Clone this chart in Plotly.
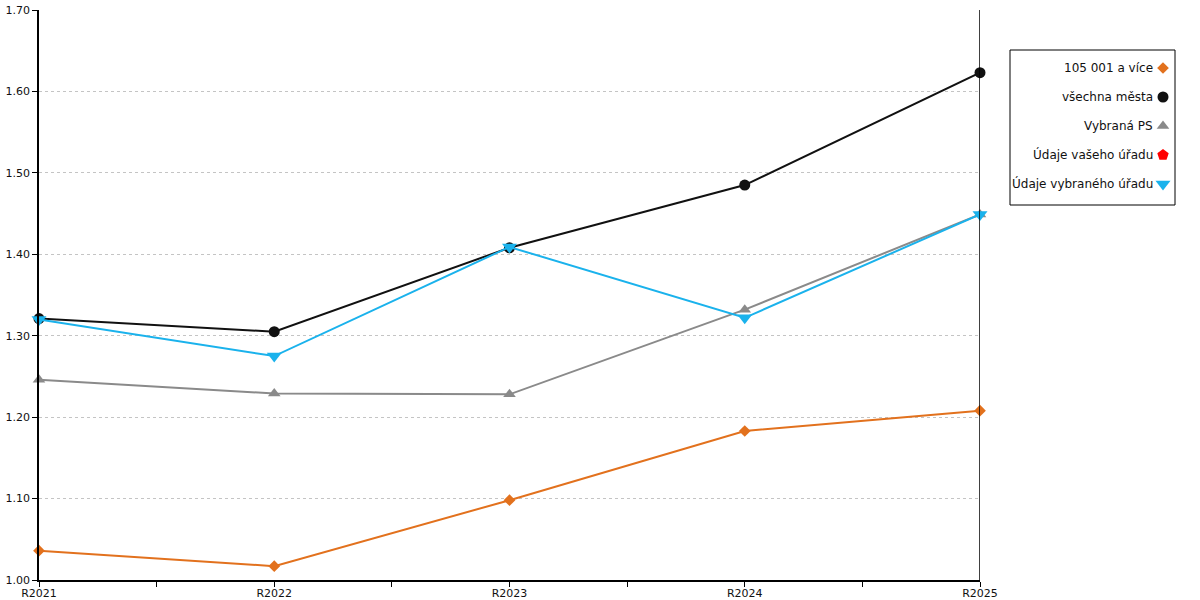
import plotly.graph_objects as go

# data
roky = ['R2021', 'R2022', 'R2023', 'R2024', 'R2025']
nazvy = ['105 001 a více', 'všechna města', 'Vybraná PS', 'Údaje vašeho úřadu', 'Údaje vybraného úřadu']
mesta_105 = [1.036, 1.017, 1.098, 1.183, 1.208]
vsechna_mesta = [1.321, 1.305, 1.408, 1.485, 1.623]
vybrana_ps = [1.246, 1.229, 1.228, 1.332, 1.449]
vas_urad = [None, None, None, None, None]
vybrany_urad = [1.320, 1.275, 1.409, 1.322, 1.449]

rady = [mesta_105, vsechna_mesta, vybrana_ps, vas_urad, vybrany_urad]
barvy = ['#E2711D', '#111111', '#8A8A8A', '#FF0000', '#1AB2EC']
symboly = ['diamond', 'circle', 'triangle-up', 'pentagon', 'triangle-down']
velikosti = [9, 11, 11, 12, 13]

x = list(range(len(roky)))
fnt = dict(family='DejaVu Sans', size=11, color='#111')
fnt_leg = dict(family='DejaVu Sans', size=12, color='#111')

W, H = 1200, 600


def px_x(p):
    return p / W


def px_y(p):
    return (H - p) / H


fig = go.Figure()
for nazev, hodnoty, barva, sym, vel in zip(nazvy, rady, barvy, symboly, velikosti):
    fig.add_trace(go.Scatter(
        x=x, y=hodnoty, name=nazev, mode='lines+markers',
        line=dict(color=barva, width=2),
        marker=dict(symbol=sym, size=vel, color=barva),
        showlegend=False, cliponaxis=False,
    ))

# custom legend: text right aligned, symbol on the right
leg_y = [0, 1, 2, 3, 4]
for i, (nazev, barva, sym, vel) in enumerate(zip(nazvy, barvy, symboly, velikosti)):
    fig.add_trace(go.Scatter(
        x=[0], y=[leg_y[i]], mode='markers', xaxis='x2', yaxis='y2',
        marker=dict(symbol=sym, size=vel, color=barva),
        showlegend=False, hoverinfo='skip', cliponaxis=False,
    ))
    fig.add_annotation(x=-0.6, y=leg_y[i], xref='x2', yref='y2', text=nazev,
                       showarrow=False, xanchor='right', font=fnt_leg)

fig.update_layout(
    width=W, height=H,
    margin=dict(l=0, r=0, t=0, b=0),
    plot_bgcolor='white', paper_bgcolor='white',
    font=fnt,
    xaxis=dict(
        domain=[px_x(39), px_x(980)], automargin=False,
        range=[0, 4], tickvals=x, ticktext=roky,
        showgrid=False, zeroline=False,
        showline=True, linecolor='black', linewidth=1.5,
        ticks='outside', ticklen=5, tickcolor='black', ticklabelstandoff=-3,
        minor=dict(tickvals=[0.5, 1.5, 2.5, 3.5], ticks='outside', ticklen=5, tickcolor='black'),
        tickfont=fnt,
    ),
    yaxis=dict(
        domain=[px_y(580), px_y(10)], automargin=False,
        range=[1.0, 1.7], dtick=0.1, tickformat='.2f',
        showgrid=True, gridcolor='#c4c4c4', griddash='dot', gridwidth=1,
        zeroline=False, showline=True, linecolor='black', linewidth=1.5,
        ticks='outside', ticklen=5, tickcolor='black', tickfont=fnt,
    ),
    xaxis2=dict(domain=[px_x(1150), px_x(1176)], range=[-1, 1], visible=False,
                fixedrange=True, anchor='y2'),
    yaxis2=dict(domain=[px_y(198.5), px_y(53.5)], range=[4.5, -0.5], visible=False,
                fixedrange=True, anchor='x2'),
    shapes=[
        dict(type='line', xref='x', yref='paper', x0=4, x1=4, y0=px_y(580), y1=px_y(10),
             line=dict(color='black', width=1.5)),
        dict(type='rect', xref='paper', yref='paper', x0=px_x(1010), x1=px_x(1175),
             y0=px_y(205), y1=px_y(50), line=dict(color='black', width=1)),
    ],
)

# drop the default 8px body margin so the figure fills the window
fig.write_html('out.html', config={'displayModeBar': False},
               post_script="document.body.style.margin='0';")
